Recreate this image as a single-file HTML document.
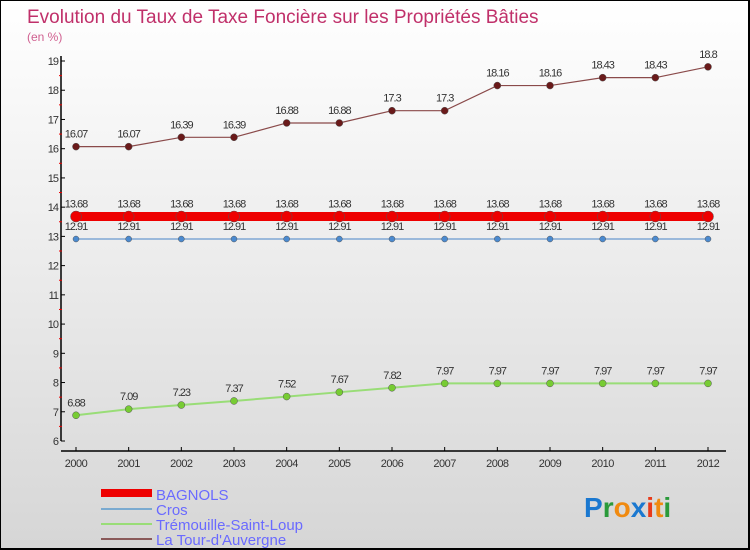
<!DOCTYPE html>
<html><head><meta charset="utf-8">
<style>
body{margin:0;}
#wrap{width:750px;height:550px;position:relative;overflow:hidden;box-sizing:border-box;border:1px solid #000;border-width:1px 2px 2px 1px;background:linear-gradient(#ffffff,#f3f3f3 30%,#d6d6d6);font-family:"Liberation Sans",sans-serif;}
svg text{font-family:"Liberation Sans",sans-serif;}
</style></head><body>
<div id="wrap">
<svg id="c" width="750" height="550">
<text x="26" y="22" font-size="19" fill="#c0306a">Evolution du Taux de Taxe Foncière sur les Propriétés Bâties</text>
<text x="26" y="40" font-size="12" fill="#d06090">(en %)</text>
<g id="g"></g>
<g>
<rect x="100" y="488" width="51" height="8" fill="#ee0000"/>
<text x="155" y="499" font-size="15" fill="#6a6aff">BAGNOLS</text>
<rect x="100" y="507" width="51" height="2" fill="#7aaad0"/>
<text x="155" y="514" font-size="15" fill="#6a6aff">Cros</text>
<rect x="100" y="522" width="51" height="2" fill="#99dd77"/>
<text x="155" y="529" font-size="15" fill="#6a6aff">Trémouille-Saint-Loup</text>
<rect x="100" y="537" width="51" height="2" fill="#8a5a5a"/>
<text x="155" y="544" font-size="15" fill="#6a6aff">La Tour-d'Auvergne</text>
</g>
<g font-size="28" font-weight="bold">
<text x="583" y="516"><tspan fill="#1a78d0">P</tspan><tspan fill="#2a9a3a">r</tspan><tspan fill="#f08a10">o</tspan><tspan fill="#1a78d0">x</tspan><tspan fill="#e83a1a">i</tspan><tspan fill="#f08a10">t</tspan><tspan fill="#2a9a3a">i</tspan></text>
</g>
</svg>
</div>
<script>
const years=[2000,2001,2002,2003,2004,2005,2006,2007,2008,2009,2010,2011,2012];
const yTicks=[6,7,8,9,10,11,12,13,14,15,16,17,18,19];
const bagnols=[13.68,13.68,13.68,13.68,13.68,13.68,13.68,13.68,13.68,13.68,13.68,13.68,13.68];
const cros=[12.91,12.91,12.91,12.91,12.91,12.91,12.91,12.91,12.91,12.91,12.91,12.91,12.91];
const tremouille=[6.88,7.09,7.23,7.37,7.52,7.67,7.82,7.97,7.97,7.97,7.97,7.97,7.97];
const tour=[16.07,16.07,16.39,16.39,16.88,16.88,17.3,17.3,18.16,18.16,18.43,18.43,18.8];
const NS="http://www.w3.org/2000/svg";
const g=document.getElementById('g');
const X=i=>75+i*(707-75)/(years.length-1);
const Y=v=>440-(v-6)*(380/13);
function mk(t,a,name){const e=document.createElementNS(NS,t);for(const k in a)e.setAttribute(k,a[k]);


g.appendChild(e);return e;}
mk('line',{x1:60,y1:55,x2:60,y2:440,stroke:'#000','stroke-width':1.5},'y-axis');
mk('line',{x1:60,y1:450,x2:725,y2:450,stroke:'#000','stroke-width':1.5},'x-axis');
yTicks.forEach(v=>{mk('line',{x1:60,y1:Y(v),x2:64,y2:Y(v),stroke:'#000'},'y-tick');
 const t=mk('text',{x:57,y:Y(v)+4,'font-size':11,fill:'#333','text-anchor':'end','letter-spacing':'-1'},'y-tick-label');t.textContent=v;
 if(v<19)mk('line',{x1:58,y1:Y(v+0.5),x2:61,y2:Y(v+0.5),stroke:'#e00'},'y-minor-tick');});
years.forEach((y,i)=>{mk('line',{x1:X(i),y1:446,x2:X(i),y2:450,stroke:'#000'},'x-tick');
 const t=mk('text',{x:X(i),y:466,'font-size':11,fill:'#333','text-anchor':'middle','letter-spacing':'-0.5'},'x-tick-label');t.textContent=y;});
function series(d,col,w,r,fill,name){
 mk('polyline',{points:d.map((v,i)=>X(i)+','+Y(v)).join(' '),fill:'none',stroke:col,'stroke-width':w},name+'-line');
 d.forEach((v,i)=>{mk('circle',{cx:X(i),cy:Y(v),r:r,fill:fill,stroke:'#555','stroke-width':0.5},name+'-point');
  const t=mk('text',{x:X(i),y:Y(v)-9,'font-size':11,fill:'#333','text-anchor':'middle','letter-spacing':'-1'},name+'-value');t.textContent=v;});
}
series(tour,'#8a4a4a',1.2,3.5,'#6a1a1a','tour');
series(bagnols,'#ee0000',9,5.5,'#ee0000','bagnols');
series(cros,'#6a9ad0',1.2,3,'#4a8ad0','cros');
series(tremouille,'#99dd77',2,3.5,'#77cc33','tremouille');
</script>
</body></html>
